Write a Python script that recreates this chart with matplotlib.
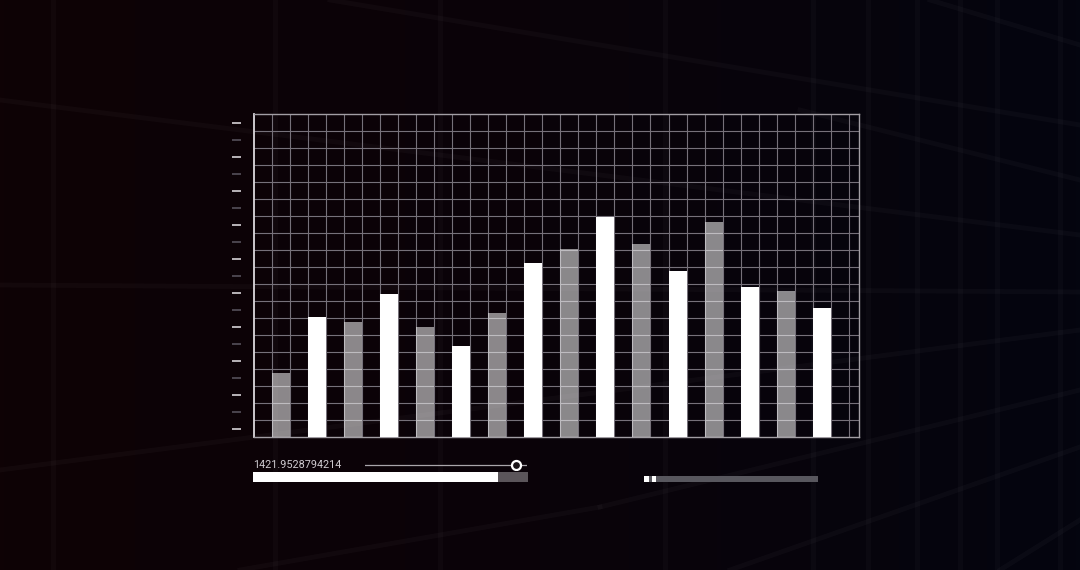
import numpy as np
import matplotlib
matplotlib.use("Agg")
import matplotlib.pyplot as plt
from matplotlib.colors import LinearSegmentedColormap

plt.rcParams['font.family'] = ['Roboto', 'DejaVu Sans']

# bar heights, in grid cells (one cell = one grid square)
heights = [3.76, 7.04, 6.75, 8.41, 6.49, 5.37, 7.28, 10.22,
           11.06, 12.96, 11.37, 9.75, 12.66, 8.84, 8.59, 7.57]
shade = ['grey', 'white'] * 8
n_cols = 33.57
n_rows = 19

slider_label = "1421.9528794214"
slider_pos = 0.932
progress = 0.891
marker_segments = [(0.0, 0.025), (0.042, 0.023)]

W, H = 1080, 570
fig = plt.figure(figsize=(W / 100, H / 100), dpi=100)

# background gradient
bg = fig.add_axes([0, 0, 1, 1])
cmap = LinearSegmentedColormap.from_list('bg', ['#0e0205', '#0a0309', '#04050f'])
grad = np.linspace(0, 1, 256).reshape(1, -1)
bg.imshow(grad, cmap=cmap, aspect='auto', extent=[0, W, H, 0])
bg.set_xlim(0, W)
bg.set_ylim(H, 0)
bg.axis('off')

# faint perspective grid behind everything
for x in [53, 275, 440, 665, 813, 868, 917, 960, 997, 1060]:
    bg.plot([x, x], [0, H], color='white', alpha=0.022, lw=3.5)
diag = [((330, 0), (1080, 125)), ((0, 100), (1080, 235)), ((930, 0), (1080, 45)),
        ((800, 110), (1080, 180)), ((0, 285), (1080, 292)), ((0, 470), (1080, 330)),
        ((600, 507), (1080, 390)), ((730, 570), (1080, 447)), ((1000, 570), (1080, 520)),
        ((240, 570), (600, 507))]
for (x0, y0), (x1, y1) in diag:
    bg.plot([x0, x1], [y0, y1], color='white', alpha=0.028, lw=3.5)

# main chart
left, bottom, width, height = 254 / W, (H - 437) / H, 605 / W, 323 / H
ax = fig.add_axes([left, bottom, width, height])
ax.set_facecolor('none')
ax.set_xlim(0, n_cols)
ax.set_ylim(0, n_rows)
ax.set_xticks(np.arange(1, int(n_cols) + 1))
ax.set_yticks(np.arange(1, n_rows))
ax.grid(True, color='#76717a', lw=0.8, zorder=0)
ax.set_axisbelow(True)
ax.tick_params(length=0, labelleft=False, labelbottom=False)
for s in ['top', 'right', 'bottom']:
    ax.spines[s].set_color('#a29ea4')
    ax.spines[s].set_linewidth(1)
ax.spines['left'].set_color('#dcd8dc')
ax.spines['left'].set_linewidth(1.3)

xs = 1.5 + 2 * np.arange(len(heights))
for x, h, s in zip(xs, heights, shade):
    if s == 'white':
        ax.bar(x, h, width=1, color='white', zorder=3)
    else:
        ax.bar(x, h, width=1, color='white', alpha=0.53, zorder=3)

# detached tick column on the left
tk = fig.add_axes([241 / W, bottom, 0.0001, height])
tk.set_ylim(0, n_rows)
tk.set_facecolor('none')
for s in tk.spines.values():
    s.set_visible(False)
tk.set_xticks([])
tk.set_yticks(np.arange(0.5, n_rows, 2))
tk.set_yticks(np.arange(1.5, n_rows - 1, 2), minor=True)
tk.tick_params(axis='y', which='major', length=6.5, width=1.2, color='#d6d2d6', labelleft=False)
tk.tick_params(axis='y', which='minor', length=6.5, width=1.2, color='#55505a', labelleft=False)

# value label and slider
fig.text(253 / W, 1 - 464.5 / H, slider_label, color='#cfcbd0', fontsize=7.8,
         va='center', ha='left')
sl = fig.add_axes([365 / W, 1 - 470 / H, 162 / W, 11 / H])
sl.set_xlim(0, 1)
sl.set_ylim(-1, 1)
sl.axis('off')
sl.plot([0, 1], [0, 0], color='#a9a5aa', lw=0.9)
sl.plot([slider_pos], [0], 'o', ms=6.5, mfc='#1a1418', mec='white', mew=1.6)

# progress bar
pb = fig.add_axes([253 / W, 1 - 482.3 / H, 275 / W, 10 / H])
pb.set_xlim(0, 1)
pb.set_ylim(0, 1)
pb.axis('off')
pb.barh(0.5, 1, height=1, color='#5b555a')
pb.barh(0.5, progress, height=1, color='white')

# right track with markers
rb = fig.add_axes([644.3 / W, 1 - 482 / H, 173.5 / W, 6.3 / H])
rb.set_xlim(0, 1)
rb.set_ylim(0, 1)
rb.axis('off')
rb.barh(0.5, 1, height=1, color='#58575e')
for start, w in marker_segments:
    rb.barh(0.5, w, left=start, height=1, color='white')

fig.savefig('out.png', dpi=100, facecolor='black')
